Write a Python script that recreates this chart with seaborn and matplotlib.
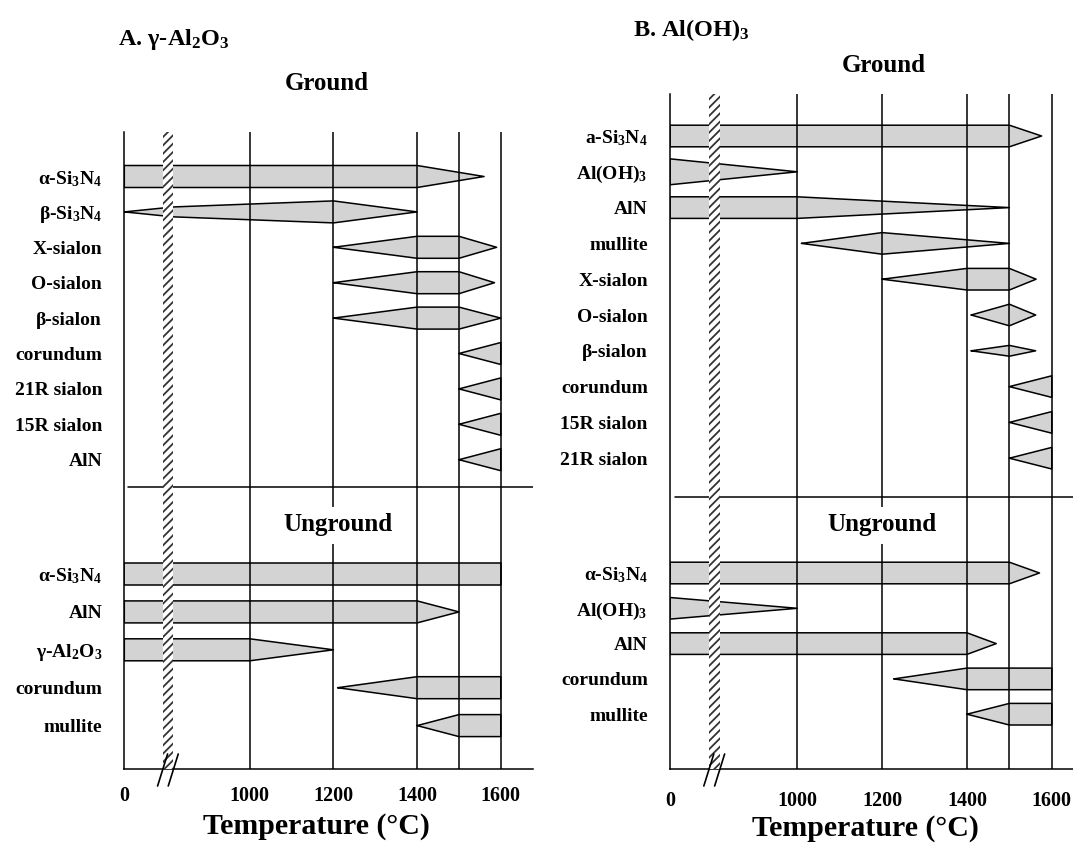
import numpy as np
import pandas as pd
import matplotlib
matplotlib.use("Agg")
import matplotlib.pyplot as plt
import seaborn as sns

# ---------------- data (temperature profile of each phase) ----------------
tick_temps = [0, 1000, 1200, 1400, 1600]
grid_temps = [1000, 1200, 1400, 1500, 1600]
break_span = (305, 390)

a_ground_labels = ["α-Si$_3$N$_4$", "β-Si$_3$N$_4$", "X-sialon", "O-sialon", "β-sialon",
                   "corundum", "21R sialon", "15R sialon", "AlN"]
a_ground_temps = [[0, 1400, 1560], [0, 390, 1200, 1400], [1200, 1400, 1500, 1590],
                  [1200, 1400, 1500, 1585], [1200, 1400, 1500, 1600],
                  [1500, 1600], [1500, 1600], [1500, 1600], [1500, 1600]]
a_ground_widths = [[1, 1, 0], [0, 0.45, 1, 0], [0, 1, 1, 0], [0, 1, 1, 0], [0, 1, 1, 0],
                   [0, 1], [0, 1], [0, 1], [0, 1]]

a_unground_labels = ["α-Si$_3$N$_4$", "AlN", "γ-Al$_2$O$_3$", "corundum", "mullite"]
a_unground_temps = [[0, 1600], [0, 1400, 1500], [0, 1000, 1200],
                    [1210, 1400, 1600], [1400, 1500, 1600]]
a_unground_widths = [[1, 1], [1, 1, 0], [1, 1, 0], [0, 1, 1], [0, 1, 1]]

b_ground_labels = ["a-Si$_3$N$_4$", "Al(OH)$_3$", "AlN", "mullite", "X-sialon", "O-sialon",
                   "β-sialon", "corundum", "15R sialon", "21R sialon"]
b_ground_temps = [[0, 1500, 1576], [0, 1000], [0, 1000, 1500], [1010, 1200, 1500],
                  [1200, 1400, 1500, 1563], [1410, 1500, 1562], [1410, 1500, 1562],
                  [1500, 1600], [1500, 1600], [1500, 1600]]
b_ground_widths = [[1, 1, 0], [1.2, 0], [1, 1, 0], [0, 1, 0], [0, 1, 1, 0], [0, 1, 0],
                   [0, 0.5, 0], [0, 1], [0, 1], [0, 1]]

b_unground_labels = ["α-Si$_3$N$_4$", "Al(OH)$_3$", "AlN", "corundum", "mullite"]
b_unground_temps = [[0, 1500, 1571], [0, 1000], [0, 1400, 1469],
                    [1228, 1400, 1600], [1400, 1500, 1600]]
b_unground_widths = [[1, 1, 0], [1, 0], [1, 1, 0], [0, 1, 1], [0, 1, 1]]

# ---------------- style ----------------
sns.set_theme(style="white")
plt.rcParams.update({
    "font.family": ["Liberation Serif", "DejaVu Serif"],
    "font.weight": "bold",
    "axes.labelweight": "bold",
    "text.color": "black",
    "axes.labelcolor": "black",
    "xtick.color": "black",
    "ytick.color": "black",
    "mathtext.fontset": "custom",
    "mathtext.rm": "Liberation Serif:bold",
    "mathtext.it": "Liberation Serif:bold",
    "mathtext.bf": "Liberation Serif:bold",
    "mathtext.default": "rm",
    "hatch.linewidth": 1.3,
    "axes.edgecolor": "black",
    "axes.linewidth": 1.1,
})

FILL = "#d3d3d3"
W, H = 1073, 844


def fwd(t):
    t = np.asarray(t, float)
    return np.where(t <= 1000, t * 0.3, 300 + (t - 1000))


def inv(u):
    u = np.asarray(u, float)
    return np.where(u <= 300, u / 0.3, 1000 + (u - 300))


fig = plt.figure(figsize=(W / 100, H / 100), dpi=100)

panels = [
    dict(left=124.3, right=533, top=132, bottom=769, tmax=1677,
         g0=176.5, gstep=35.4, u0=574, ustep=37.9, half=11, sep=487, sep_x=127.7,
         ug=(1210, 525), xlab=(316, 826), xpad=12,
         title=("A. γ-Al$_2$O$_3$", 118, 40), ground=(326.6, 83),
         ground_data=(a_ground_labels, a_ground_temps, a_ground_widths),
         unground_data=(a_unground_labels, a_unground_temps, a_unground_widths)),
    dict(left=670, right=1073, top=94, bottom=769, tmax=1650,
         g0=136, gstep=35.8, u0=573, ustep=35.3, half=10.8, sep=497, sep_x=675,
         ug=(1200, 525), xlab=(865, 829), xpad=15.5,
         title=("B. Al(OH)$_3$", 633, 30), ground=(884, 65),
         ground_data=(b_ground_labels, b_ground_temps, b_ground_widths),
         unground_data=(b_unground_labels, b_unground_temps, b_unground_widths)),
]

for L in panels:
    ax = fig.add_axes([L["left"] / W, 1 - L["bottom"] / H,
                       (L["right"] - L["left"]) / W, (L["bottom"] - L["top"]) / H])
    ax.set_xscale("function", functions=(fwd, inv))
    ax.set_facecolor("white")

    records = []
    ypos, ylabels = [], []
    sections = [(L["ground_data"], L["g0"], L["gstep"]),
                (L["unground_data"], L["u0"], L["ustep"])]
    sid = 0
    for (labels, temps, widths), y0, step in sections:
        for i, (lab, T, w) in enumerate(zip(labels, temps, widths)):
            yc = y0 + i * step
            ypos.append(yc)
            ylabels.append(lab)
            T = np.asarray(T, float)
            hw = np.asarray(w, float) * L["half"]
            pt = np.concatenate([T, T[::-1], T[:1]])
            py = np.concatenate([yc - hw, (yc + hw)[::-1], [yc - hw[0]]])
            ax.fill(pt, py, color=FILL, lw=0, zorder=1)
            for k, (tt, yy) in enumerate(zip(pt, py)):
                records.append(dict(shape=sid, order=k, T=tt, y=yy))
            sid += 1
    df = pd.DataFrame(records)
    sns.lineplot(data=df, x="T", y="y", units="shape", estimator=None, sort=False,
                 color="black", lw=1.1, ax=ax, zorder=2)

    for t in grid_temps:
        ax.axvline(t, color="black", lw=1.1, zorder=2.5)
    frac0 = (L["sep_x"] - L["left"]) / (L["right"] - L["left"])
    ax.axhline(L["sep"], xmin=frac0, xmax=1, color="black", lw=1.1, zorder=1.5)
    ax.axvspan(*break_span, facecolor="white", edgecolor="#333333", hatch="////",
               lw=0, zorder=3)

    ax.set_xlim(0, L["tmax"])
    ax.set_ylim(L["bottom"], L["top"])

    # axis break marks
    axw = L["right"] - L["left"]
    axh = L["bottom"] - L["top"]
    u_lo, u_hi = fwd(0), fwd(L["tmax"])
    for t in break_span:
        fx = (fwd(t) - u_lo) / (u_hi - u_lo)
        ax.plot([fx - 5 / axw, fx + 5 / axw], [-17 / axh, 15 / axh], color="black",
                lw=1.2, transform=ax.transAxes, clip_on=False, zorder=4)

    ax.text(L["ug"][0], L["ug"][1], "Unground", ha="center", va="center", fontsize=18,
            bbox=dict(fc="white", ec="none", pad=5), zorder=5)

    ax.set_xticks(tick_temps, [str(t) for t in tick_temps])
    ax.tick_params(axis="x", length=0, pad=L["xpad"], labelsize=14.5)
    ax.set_yticks(ypos, ylabels)
    ax.tick_params(axis="y", length=0, pad=16, labelsize=14)
    ax.set_ylabel("")
    ax.set_xlabel("Temperature (°C)", fontsize=21.5, fontweight="bold")
    ax.xaxis.set_label_coords((L["xlab"][0] - L["left"]) / axw,
                              (L["bottom"] - L["xlab"][1]) / axh)
    ax.xaxis.label.set_va("center")
    ax.grid(False)
    for s in ["top", "right"]:
        ax.spines[s].set_visible(False)
    for s in ["left", "bottom"]:
        ax.spines[s].set_color("black")
        ax.spines[s].set_linewidth(1.1)

    t, tx, ty = L["title"]
    fig.text(tx / W, 1 - ty / H, t, fontsize=17.5, ha="left", va="center")
    fig.text(L["ground"][0] / W, 1 - L["ground"][1] / H, "Ground", fontsize=18,
             ha="center", va="center")

fig.savefig("out.png", dpi=100, facecolor="white")
